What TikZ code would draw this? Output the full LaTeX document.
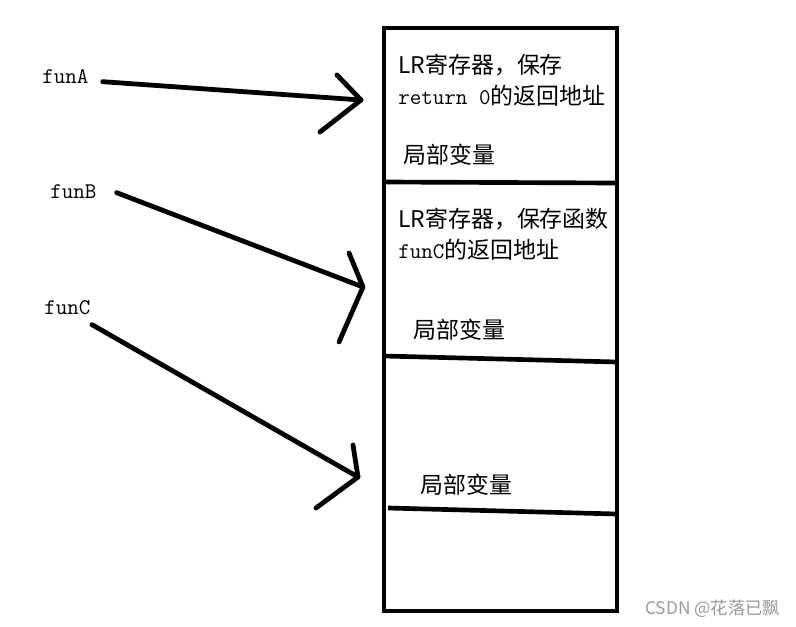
\documentclass[tikz,border=0pt]{standalone}
\usepackage{fontspec}
\setmainfont{Noto Sans CJK SC}
\usetikzlibrary{positioning}
\definecolor{ink}{HTML}{000000}
\definecolor{mark}{HTML}{9A9A9A}
\tikzset{
  frame/.style={draw=ink,line width=3.5pt},
  pointer/.style={draw=ink,line width=3.6pt,line cap=round,line join=round},
  fname/.style={anchor=west,inner sep=0pt,font=\fontsize{16.8}{20}\selectfont\ttfamily},
  slot/.style={anchor=west,inner sep=0pt,align=left,font=\fontsize{17.2}{23.5}\selectfont},
  watermark/.style={anchor=west,inner sep=0pt,text=mark,font=\fontsize{13}{15}\selectfont}
}
\begin{document}
\begin{tikzpicture}[x=0.75pt,y=-0.75pt]
    \useasboundingbox (0,0) rectangle (796,626);
    % stack of frames
    \draw[frame] (384,28) rectangle (617,611);
    \draw[frame] (384,182) -- (617,183);
    \draw[frame] (384,356) -- (617,362);
    \draw[frame] (388,508) -- (617,514);
    \node[slot] (lrA) at (398,80) {LR寄存器，保存\\{\ttfamily\fontsize{16.8}{20}\selectfont return 0}的返回地址};
    \node[slot] (varA) at (403,155) {局部变量};
    \node[slot] (lrC) at (398,234) {LR寄存器，保存函数\\{\ttfamily\fontsize{16.8}{20}\selectfont funC}的返回地址};
    \node[slot] (varB) at (413,330) {局部变量};
    \node[slot] (varC) at (420,485) {局部变量};
    % function names
    \node[fname] (funA) at (42,77) {funA};
    \node[fname] (funB) at (50,192) {funB};
    \node[fname] (funC) at (44,308) {funC};
    % hand drawn pointers
    \coordinate (tipA) at (361,100);
    \coordinate (tipB) at (363,287);
    \coordinate (tipC) at (358,477);
    \draw[pointer] ([xshift=10.5pt,yshift=-3.5pt]funA.east) -- (tipA);
    \draw[pointer] (337,75) -- (tipA) -- (320,132);
    \draw[pointer] ([xshift=15pt,yshift=-0.5pt]funB.east) -- (tipB);
    \draw[pointer] (349,253) -- (tipB) -- (339,342);
    \draw[pointer] ([xshift=1pt,yshift=-12.5pt]funC.east) -- (tipC);
    \draw[pointer] (353,445) -- (tipC) -- (316,508);
    \node[watermark] (csdn) at (645,609) {CSDN @花落已飘};
\end{tikzpicture}
\end{document}
